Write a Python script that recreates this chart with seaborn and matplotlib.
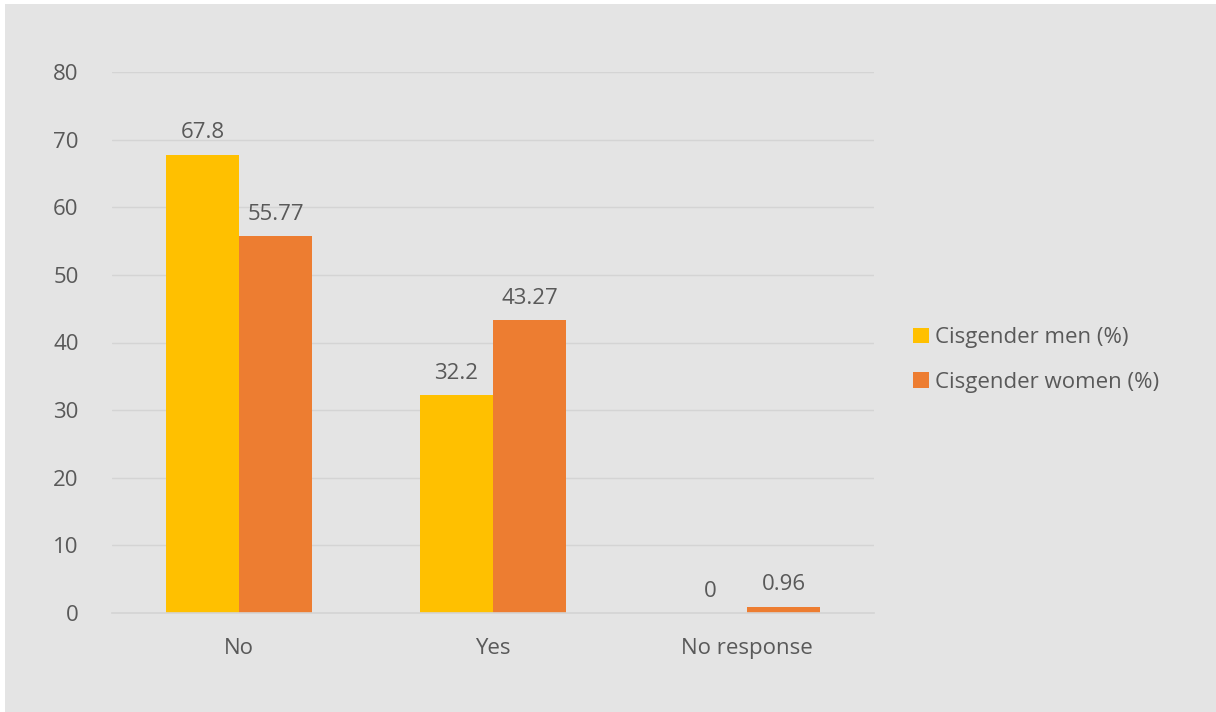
import matplotlib
matplotlib.use("Agg")
import matplotlib.pyplot as plt
import seaborn as sns
import pandas as pd
from matplotlib.patches import Rectangle, Patch

categories = ["No", "Yes", "No response"]
series_names = ["Cisgender men (%)", "Cisgender women (%)"]
men_values = [67.8, 32.2, 0]
women_values = [55.77, 43.27, 0.96]
men_labels = ["67.8", "32.2", "0"]
women_labels = ["55.77", "43.27", "0.96"]
y_ticks = [0, 10, 20, 30, 40, 50, 60, 70, 80]

colors = ["#FFC000", "#ED7D31"]
text_color = "#595959"
bg = "#E4E4E4"
fs = 16

sns.set_theme(style="white")
plt.rcParams["font.family"] = ["Open Sans", "DejaVu Sans"]

df = pd.DataFrame({
    "category": categories * 2,
    "series": [series_names[0]] * 3 + [series_names[1]] * 3,
    "value": men_values + women_values,
})

fig = plt.figure(figsize=(12.16, 7.12), dpi=100, facecolor="white")
fig.patches.append(Rectangle((5 / 1216, 0), 1, 1 - 4 / 712, transform=fig.transFigure,
                             facecolor=bg, edgecolor="none", zorder=-10))
ax = fig.add_axes([112 / 1216, 1 - 613 / 712, (874 - 112) / 1216, (613 - 72) / 712])
ax.set_facecolor(bg)

sns.barplot(data=df, x="category", y="value", hue="series", order=categories,
            hue_order=series_names, palette=colors, width=0.575, saturation=1,
            linewidth=0, ax=ax, legend=False)

for container, labels in zip(ax.containers, [men_labels, women_labels]):
    ax.bar_label(container, labels=labels, padding=8, fontsize=fs, color=text_color)

ax.set_ylim(0, 80)
ax.set_xlim(-0.5, 2.5)
ax.set_yticks(y_ticks)
ax.set_yticklabels([str(t) for t in y_ticks])
ax.yaxis.grid(True, color="#D4D4D4", linewidth=1)
ax.set_axisbelow(True)
for s in ["top", "right", "left"]:
    ax.spines[s].set_visible(False)
ax.spines["bottom"].set_color("#D4D4D4")
ax.spines["bottom"].set_linewidth(1.2)
ax.tick_params(axis="both", length=0, labelsize=fs, labelcolor=text_color)
ax.tick_params(axis="y", pad=24)
ax.tick_params(axis="x", pad=18)
ax.set_xlabel("")
ax.set_ylabel("")

handles = [Patch(facecolor=c, edgecolor="none") for c in colors]
fig.legend(handles, series_names, loc="center left",
           bbox_to_anchor=(893 / 1216, 1 - 360 / 712), frameon=False,
           fontsize=fs, labelcolor=text_color, handlelength=0.7, handleheight=0.7,
           handletextpad=0.3, labelspacing=1.05)

fig.savefig("out.png", dpi=100, facecolor="white")
